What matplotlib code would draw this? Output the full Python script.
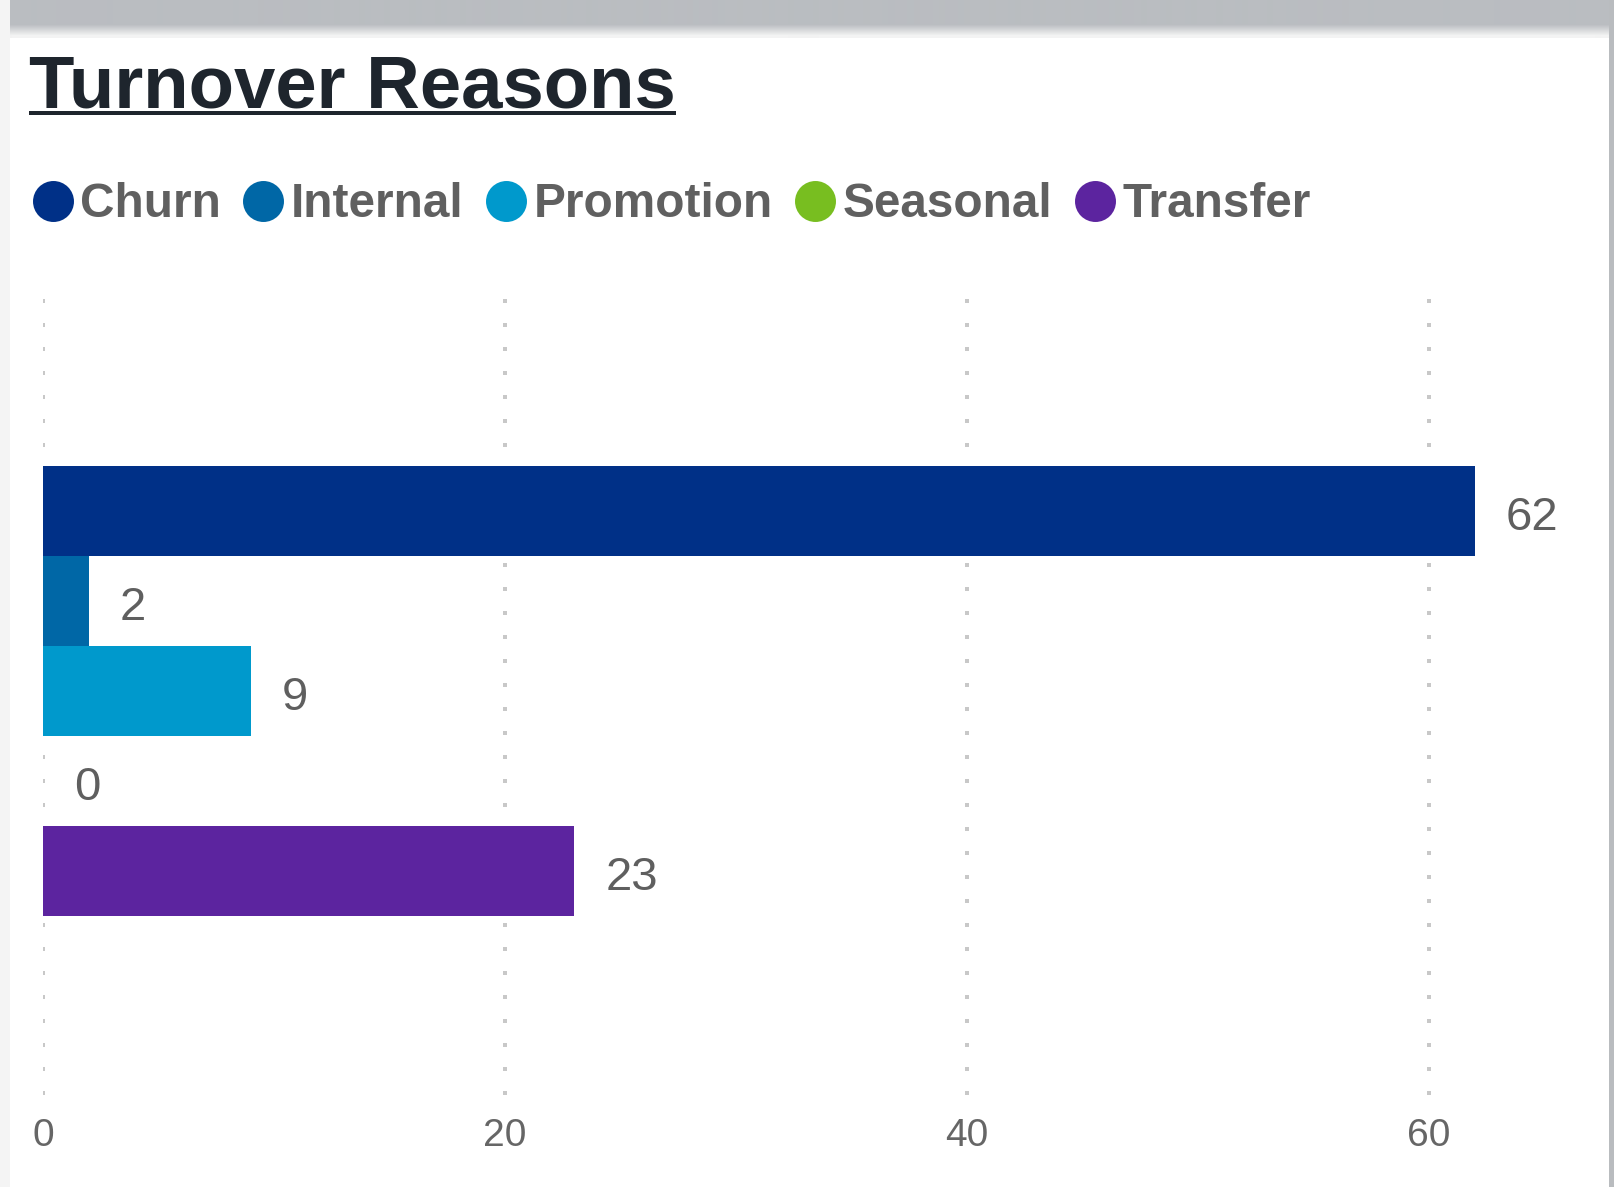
import matplotlib
matplotlib.use("Agg")
import matplotlib.pyplot as plt
from matplotlib.patches import Rectangle
from matplotlib.lines import Line2D
import numpy as np

# ---- data ----
series_names = ["Churn", "Internal", "Promotion", "Seasonal", "Transfer"]
series_values = [62, 2, 9, 0, 23]
series_colors = ["#003087", "#0067a6", "#0099cc", "#78be20", "#5c249f"]
x_ticks = [0, 20, 40, 60]
title = "Turnover Reasons"

plt.rcParams["font.family"] = ["Liberation Sans", "DejaVu Sans"]

W, H = 1614, 1187
fig = plt.figure(figsize=(W / 100, H / 100), dpi=100)
fig.patch.set_facecolor("white")

# ---- background decoration (pixel coords) ----
bg = fig.add_axes([0, 0, 1, 1], zorder=-10)
bg.axis("off")
bg.add_patch(Rectangle((0, 0), 10, H, color="#f4f4f4", lw=0))
grad = np.ones((38, 1, 3))
top = np.array([0xba, 0xbd, 0xc1]) / 255
end = np.array([0xf3, 0xf3, 0xf3]) / 255
for r in range(38):
    t = 0 if r < 24 else min(1, (r - 24) / 11)
    grad[r, 0] = top * (1 - t) + end * t
bg.imshow(grad, extent=(0, W, 38, 0), aspect="auto", interpolation="bilinear")
bg.add_patch(Rectangle((1609, 0), W - 1609, H, color="#b9bcbf", lw=0))
bg.set_xlim(0, W)
bg.set_ylim(H, 0)

# ---- main axes ----
px_per_unit = 23.1
ax_left, ax_top, ax_bottom = 42.9, 299, 1095
xmax = 65
ax = fig.add_axes([ax_left / W, (H - ax_bottom) / H,
                   xmax * px_per_unit / W, (ax_bottom - ax_top) / H])
ax.set_facecolor("none")

bar_px = 90
units = (ax_bottom - ax_top) / bar_px
ytop = -0.5 - (466 - ax_top) / bar_px
ax.set_ylim(ytop + units, ytop)
ax.set_xlim(0, xmax)

for i, (name, v, c) in enumerate(zip(series_names, series_values, series_colors)):
    ax.barh(i, v, height=1.0, color=c, zorder=3, label=name)
    ax.annotate(str(v), xy=(v, i), xytext=(31 * 0.72, -7 * 0.72), textcoords="offset points",
                ha="left", va="center", fontsize=34, color="#5f5f5f", zorder=4)

ax.set_xticks(x_ticks)
ax.set_yticks([])
ax.grid(axis="x", color="#c8c8c8", linewidth=2.88, linestyle=(0, (1, 5)), zorder=0)
ax.set_axisbelow(True)
ax.tick_params(axis="x", length=0, pad=16.6, labelsize=28, labelcolor="#666666")
for s in ax.spines.values():
    s.set_visible(False)

# ---- title with underline ----
t = fig.text(29 / W, 1 - 108 / H, title, fontsize=53.6, fontweight="bold",
             color="#1e252d", ha="left", va="baseline")
fig.canvas.draw()
bb = t.get_window_extent()
fig.add_artist(Line2D([bb.x0 / W, bb.x1 / W], [1 - 112.5 / H, 1 - 112.5 / H],
                      transform=fig.transFigure, color="#1e252d", lw=4 * 0.72,
                      solid_capstyle="butt"))

# ---- legend ----
handles = [Line2D([], [], marker="o", linestyle="none", markersize=29.5,
                  markerfacecolor=c, markeredgewidth=0) for c in series_colors]
fs_pt = 34.4
fs_px = fs_pt / 0.72
leg = fig.legend(handles, series_names, loc="center left",
                 bbox_to_anchor=(32 / W, 1 - 205 / H), ncol=5, frameon=False,
                 prop={"size": fs_pt, "weight": "bold"}, labelcolor="#606060",
                 handlelength=41 / fs_px, handletextpad=7 / fs_px,
                 columnspacing=22 / fs_px, borderpad=0, borderaxespad=0,
                 handleheight=0.7)

fig.savefig("out.png", dpi=100, facecolor="white")
